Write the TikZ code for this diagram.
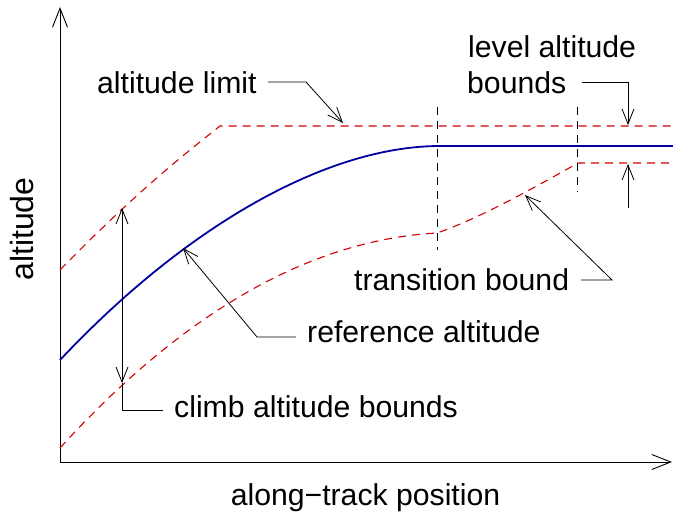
\documentclass[tikz,border=0pt]{standalone}
\usepackage{fontspec}
\setmainfont{Liberation Sans}
\usetikzlibrary{arrows.meta}
\definecolor{bndred}{RGB}{210,0,0}
\definecolor{refblue}{RGB}{0,0,160}
\begin{document}
\begin{tikzpicture}[x=1pt,y=-1pt,
  lbl/.style={font=\fontsize{30.2}{36}\selectfont, inner sep=0pt, anchor=base west},
  axis/.style={line width=0.9pt, -{Straight Barb[length=19pt,width=15pt]}},
  bound/.style={bndred, line width=1.1pt, dash pattern=on 8pt off 6pt},
  sepline/.style={black, line width=1pt, dash pattern=on 8pt off 6pt},
  refline/.style={refblue, line width=1.8pt},
  lead/.style={line width=0.8pt},
  ptr/.style={lead, -{Straight Barb[length=15pt,width=12pt]}},
  dptr/.style={lead, {Straight Barb[length=15pt,width=12pt]}-{Straight Barb[length=15pt,width=12pt]}}]
\useasboundingbox (0,0) rectangle (673,514);

% axes
\coordinate (O) at (60,462);
\coordinate (ytip) at (60,7);
\coordinate (xtip) at (672,462);
\draw[axis] (O) -- (ytip);
\draw[axis] (O) -- (xtip);

% curves
\draw[bound] (60,270) .. controls (140,188) and (190,150) .. (220,126) -- (673,126);
\draw[refline] (60,360) .. controls (190,222) and (330,146) .. (440,146) -- (673,146);
\draw[bound] (60,448) .. controls (180,316) and (307,240) .. (437,233)
   .. controls (480,218) and (530,190) .. (578,163) -- (673,163);

% transition separators
\coordinate (s1a) at (437,107); \coordinate (s1b) at (437,250);
\coordinate (s2a) at (577,107); \coordinate (s2b) at (577,192);
\draw[sepline] (s1a) -- (s1b);
\draw[sepline] (s2a) -- (s2b);

% altitude limit
\node[lbl] (limit) at (97,93) {altitude limit};
\coordinate (lims) at (268,82);
\coordinate (limc) at (306,82);
\coordinate (limtip) at (343,123);
\draw[ptr] (lims) -- (limc) -- (limtip);

% climb altitude bounds
\node[lbl] (climb) at (174,417) {climb altitude bounds};
\coordinate (cu) at (122,208);
\coordinate (cl) at (122,383);
\coordinate (cc) at (122,410);
\coordinate (ce) at (163,410);
\draw[dptr] (cl) -- (cu);
\draw[lead] (cl) -- (cc) -- (ce);

% reference altitude
\node[lbl] (refl) at (307,342) {reference altitude};
\coordinate (rs) at (296,337);
\coordinate (rc) at (257,337);
\coordinate (rtip) at (183,248);
\draw[ptr] (rs) -- (rc) -- (rtip);

% transition bound
\node[lbl] (trans) at (354,290) {transition bound};
\coordinate (ts) at (581,280);
\coordinate (tc) at (612,280);
\coordinate (ttip) at (525,195);
\draw[ptr] (ts) -- (tc) -- (ttip);

% level altitude bounds
\node[lbl] (lvla) at (468,57) {level altitude};
\node[lbl] (lvlb) at (467,93) {bounds};
\coordinate (ls) at (582,82);
\coordinate (lc) at (628,82);
\coordinate (ltip) at (628,125);
\coordinate (lb) at (628,208);
\coordinate (lbtip) at (628,164);
\draw[ptr] (ls) -- (lc) -- (ltip);
\draw[ptr] (lb) -- (lbtip);

% axis labels
\node[lbl, anchor=base, rotate=90, font=\fontsize{32}{40}\selectfont] (ylab) at (33,229) {altitude};
\node[lbl, anchor=base] (xlab) at (365.5,505) {along−track position};
\end{tikzpicture}
\end{document}
